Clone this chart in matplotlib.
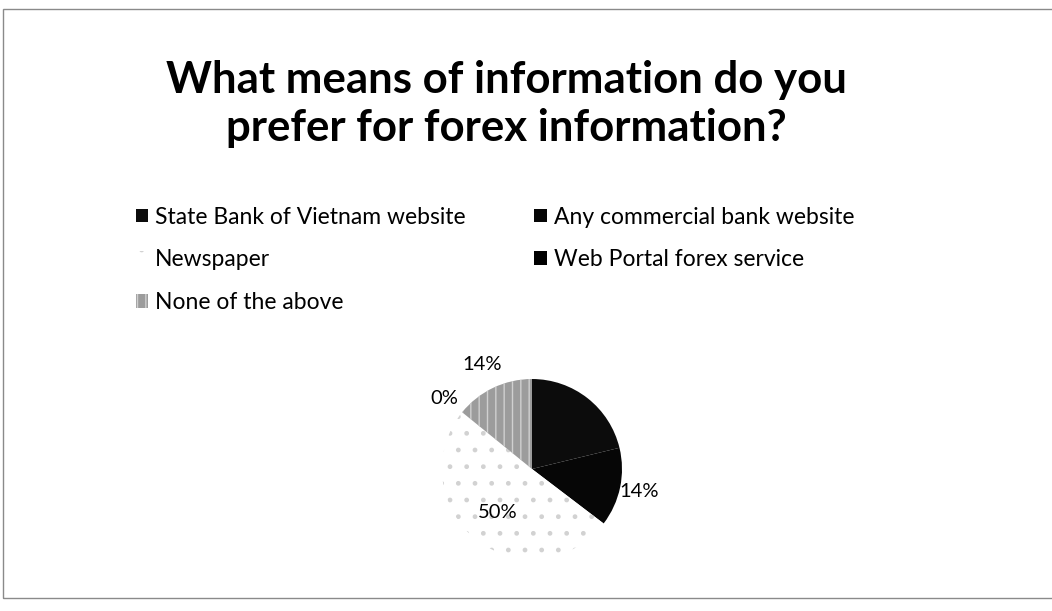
import numpy as np
import matplotlib
matplotlib.use("Agg")
import matplotlib.pyplot as plt
from matplotlib.patches import Rectangle

plt.rcParams['font.family'] = ['Lato', 'DejaVu Sans']

title = "What means of information do you\nprefer for forex information?"
sources = ["State Bank of Vietnam website", "Any commercial bank website",
           "Newspaper", "Web Portal forex service", "None of the above"]
shares = [21, 14, 50, 0, 14]
pct_labels = ["21%", "14%", "50%", "0%", "14%"]

face = ['#0c0c0c', '#060606', '#ffffff', '#000000', '#9c9c9c']
hatch = [None, None, '.', None, '||']
hatch_col = ['#0c0c0c', '#060606', '#d2d2d2', '#000000', '#d0d0d0']
# label distance from centre (in radii) and colour
lab_r = [0.55, 1.22, 0.62, 1.25, 1.28]
lab_c = ['#0c0c0c', 'black', 'black', 'black', 'black']

W, H = 1052, 611
fig = plt.figure(figsize=(W / 100, H / 100), dpi=100)
fig.patch.set_facecolor('white')

# thin frame round the chart area
fig.patches.append(Rectangle((3 / W, 1 - 598 / H), 1060 / W, 589 / H,
                             transform=fig.transFigure, fill=False,
                             edgecolor='#8a8a8a', linewidth=1.0))

fig.text(506 / W, 1 - 104 / H, title, ha='center', va='center',
         fontsize=31.5, fontweight='bold', linespacing=1.27)

# pie
cx, cy, r = 532, 469, 90
box = 150
ax = fig.add_axes([(cx - box) / W, 1 - (cy + box) / H, 2 * box / W, 2 * box / H])
wedges, _ = ax.pie(shares, startangle=90, counterclock=False, radius=1.0)
scale = box / r
ax.set_xlim(-scale, scale)
ax.set_ylim(-scale, scale)
ax.set_aspect('equal')
ax.axis('off')

for w, fc, hc, hh in zip(wedges, face, hatch_col, hatch):
    w.set_facecolor(fc)
    w.set_edgecolor(hc)
    w.set_linewidth(0)
    if hh:
        w.set_hatch(hh)

total = sum(shares)
start = 90.0
for v, lab, rr, c in zip(shares, pct_labels, lab_r, lab_c):
    mid = np.deg2rad(start - 360.0 * v / total / 2)
    start -= 360.0 * v / total
    ax.text(rr * np.cos(mid), rr * np.sin(mid), lab, ha='center', va='center',
            fontsize=14.5, color=c)

# legend, filled row by row like the original chart
order = [0, 2, 4, 1, 3]
leg = fig.legend([wedges[i] for i in order], [sources[i] for i in order],
                 ncol=2, loc='upper left', bbox_to_anchor=(115 / W, 1 - 186 / H),
                 frameon=False, fontsize=16.5, handlelength=0.55, handleheight=0.55,
                 handletextpad=0.3, columnspacing=3.0, labelspacing=0.95)

fig.savefig("out.png", dpi=100, facecolor='white')
